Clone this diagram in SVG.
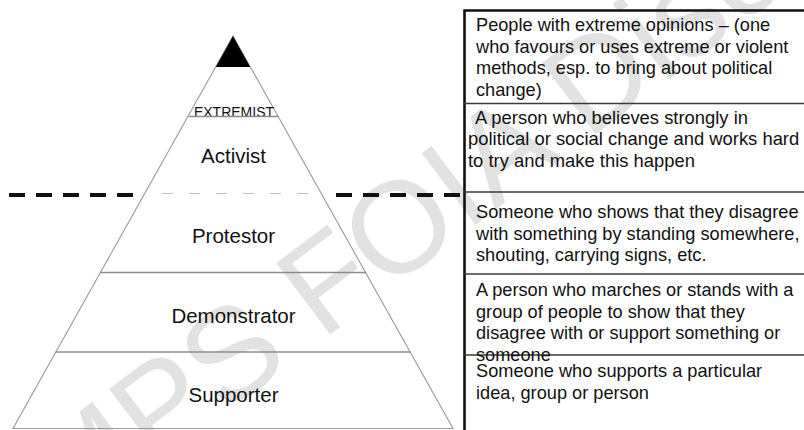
<svg xmlns="http://www.w3.org/2000/svg" width="804" height="430" viewBox="0 0 804 430">
  <style>
    .wm { font-family: "Liberation Sans", Arial, sans-serif; font-size: 130px; fill: #e2e2e2; }
    .edge { stroke: #9a9a9a; stroke-width: 1.1; fill: none; }
    .tier { stroke: #8c8c8c; stroke-width: 1.3; fill: none; }
    .lbl { font-family: "Liberation Sans", Arial, sans-serif; font-size: 20.5px; fill: #111; text-anchor: middle; }
    .ext { font-family: "Liberation Sans", Arial, sans-serif; font-size: 14px; fill: #111; text-anchor: middle; }
    .desc { font-family: "Liberation Sans", Arial, sans-serif; font-size: 18.2px; fill: #111; }
    .sep { stroke: #3a3a3a; stroke-width: 1.6; }
    .frame { stroke: #111; stroke-width: 2.6; fill: none; }
    .bigdash { stroke: #111; stroke-width: 4; stroke-dasharray: 16 11; }
  </style>
  <rect x="0" y="0" width="804" height="430" fill="#fff"/>
  <text class="wm" transform="translate(68,532) rotate(-37)">MPS FOIA Disclosure</text>

  <g id="pyramid">
    <polygon class="edge" points="233,36 13,428.5 453,428.5"/>
    <polygon points="233,36 215.8,67 250.2,67" fill="#000"/>
  </g>

  <g id="extremist">
    <text class="ext" x="234" y="117">EXTREMIST</text>
    <line class="tier" x1="188.5" y1="116.5" x2="278" y2="116.5"/>
  </g>
  <g id="activist">
    <text class="lbl" x="233.5" y="162.5">Activist</text>
    <line x1="162" y1="193.5" x2="310" y2="193.5" stroke="#bdbdbd" stroke-width="1.2" stroke-dasharray="11 16"/>
  </g>
  <g id="protestor">
    <text class="lbl" x="233.5" y="242.5">Protestor</text>
    <line class="tier" x1="100" y1="272.5" x2="366" y2="272.5"/>
  </g>
  <g id="demonstrator">
    <text class="lbl" x="233.5" y="323">Demonstrator</text>
    <line class="tier" x1="55.5" y1="352" x2="410.5" y2="352"/>
  </g>
  <g id="supporter">
    <text class="lbl" x="233.5" y="401.5">Supporter</text>
  </g>

  <g id="connectors">
    <line class="bigdash" x1="9" y1="195" x2="135" y2="195"/>
    <line class="bigdash" x1="336" y1="195" x2="462" y2="195"/>
  </g>

  <g id="definitions">
    <path class="frame" d="M464.5,430 V10.5 H804"/>
    <line class="sep" x1="464" y1="103.5" x2="804" y2="103.5"/>
    <line class="sep" x1="464" y1="192" x2="804" y2="192"/>
    <line class="sep" x1="464" y1="274" x2="804" y2="274"/>
    <line class="sep" x1="464" y1="355" x2="804" y2="355"/>

    <g id="def-extremist">
      <text class="desc" x="476" y="31">People with extreme opinions – (one</text>
      <text class="desc" x="476" y="52.5">who favours or uses extreme or violent</text>
      <text class="desc" x="476" y="74">methods, esp. to bring about political</text>
      <text class="desc" x="476" y="95.5">change)</text>
    </g>
    <g id="def-activist">
      <text class="desc" x="475" y="123.5" style="font-size:18.4px">A person who believes strongly in</text>
      <text class="desc" x="468" y="145" style="font-size:18.4px">political or social change and works hard</text>
      <text class="desc" x="468" y="166.5" style="font-size:18.4px">to try and make this happen</text>
    </g>
    <g id="def-protestor">
      <text class="desc" x="476" y="218">Someone who shows that they disagree</text>
      <text class="desc" x="476" y="239.5">with something by standing somewhere,</text>
      <text class="desc" x="476" y="261">shouting, carrying signs, etc.</text>
    </g>
    <g id="def-demonstrator">
      <text class="desc" x="476" y="296">A person who marches or stands with a</text>
      <text class="desc" x="476" y="317.5">group of people to show that they</text>
      <text class="desc" x="476" y="339">disagree with or support something or</text>
      <text class="desc" x="476" y="360.5">someone</text>
    </g>
    <g id="def-supporter">
      <text class="desc" x="476" y="377">Someone who supports a particular</text>
      <text class="desc" x="476" y="398.5">idea, group or person</text>
    </g>
  </g>
</svg>
